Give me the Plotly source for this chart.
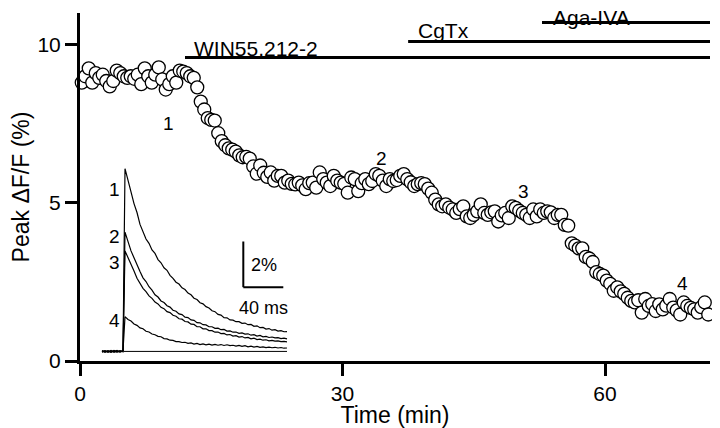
import plotly.graph_objects as go

# ---------------- main time course ----------------
TIME_START_MIN = 0.2
SAMPLE_INTERVAL_MIN = 0.4
PEAK_DFF = [
    8.80, 9.00, 9.25, 8.80, 9.10, 8.95, 9.05, 8.85, 8.68, 8.85,
    9.18, 9.10, 9.00, 8.95, 9.00, 8.92, 9.05, 8.75, 9.25, 9.00,
    8.80, 9.05, 9.28, 8.90, 8.58, 8.75, 9.00, 8.80, 9.18, 9.15,
    9.10, 9.00, 8.95, 8.65, 8.20, 7.95, 7.68, 7.62, 7.60, 7.20,
    6.95, 6.82, 6.72, 6.68, 6.62, 6.50, 6.44, 6.45, 6.40, 6.15,
    5.92, 6.18, 5.95, 5.82, 5.96, 5.70, 5.85, 5.85, 5.64, 5.70,
    5.60, 5.58, 5.64, 5.55, 5.43, 5.62, 5.64, 5.48, 5.96, 5.75,
    5.64, 5.53, 5.85, 5.70, 5.64, 5.60, 5.32, 5.80, 5.75, 5.37,
    5.62, 5.75, 5.59, 5.69, 5.91, 5.85, 5.70, 5.53, 5.75, 5.69,
    5.72, 5.85, 5.91, 5.75, 5.65, 5.53, 5.59, 5.62, 5.59, 5.45,
    5.32, 5.10, 4.95, 4.89, 4.95, 4.85, 4.79, 4.68, 4.80, 4.89,
    4.57, 4.52, 4.62, 4.73, 4.95, 4.68, 4.62, 4.70, 4.73, 4.41,
    4.60, 4.68, 4.52, 4.89, 4.84, 4.75, 4.68, 4.62, 4.52, 4.79,
    4.57, 4.79, 4.68, 4.73, 4.70, 4.52, 4.62, 4.62, 4.30, 4.28,
    3.72, 3.65, 3.56, 3.56, 3.29, 3.24, 3.13, 2.81, 2.75, 2.70,
    2.54, 2.44, 2.22, 2.33, 2.20, 2.12, 2.00, 1.90, 1.85, 1.92,
    1.53, 1.96, 1.74, 1.80, 1.58, 1.79, 1.63, 1.75, 1.96, 1.69,
    1.60, 1.47, 1.85, 1.74, 1.68, 1.63, 1.53, 1.70, 1.85, 1.47,
]
TIME_MIN = [round(TIME_START_MIN + i * SAMPLE_INTERVAL_MIN, 2) for i in range(len(PEAK_DFF))]

X_TICKS = [0, 30, 60]
Y_TICKS = [0, 5, 10]

DRUG_NAMES = ["WIN55,212-2", "CgTx", "Aga-IVA"]
DRUG_START_MIN = [12.0, 37.5, 52.8]
DRUG_END_MIN = 72.0

SAMPLE_LABELS = ["1", "2", "3", "4"]
SAMPLE_LABEL_TIME = [10.1, 34.5, 50.7, 68.8]
SAMPLE_LABEL_VALUE = [7.5, 6.39, 5.37, 2.44]

# ---------------- inset fluorescence transients ----------------
TRACE_MS = [2, 5, 8, 11, 14, 17, 20, 23] + list(range(25, 188, 3))
TRACE_1 = [0.03, -0.04, 0.02, -0.03, 0.04, -0.02, 0.03, 0.00,
           8.00, 7.42, 6.98, 6.47, 6.08, 5.56, 5.27, 4.92, 4.73, 4.44,
           4.29, 4.02, 3.88, 3.66, 3.55, 3.33, 3.20, 3.03, 2.95, 2.78,
           2.71, 2.55, 2.48, 2.33, 2.27, 2.13, 2.08, 1.96, 1.90, 1.78,
           1.74, 1.62, 1.59, 1.48, 1.47, 1.38, 1.37, 1.30, 1.30, 1.23,
           1.24, 1.17, 1.18, 1.10, 1.12, 1.04, 1.05, 0.98, 1.00, 0.93,
           0.95, 0.89, 0.91, 0.86, 0.87]
TRACE_2 = [-0.02, 0.03, -0.04, 0.02, -0.01, 0.04, -0.03, 0.02,
           5.22, 4.78, 4.40, 4.10, 3.76, 3.50, 3.22, 3.06, 2.83, 2.68,
           2.48, 2.38, 2.21, 2.14, 2.00, 1.94, 1.80, 1.76, 1.64, 1.61,
           1.50, 1.48, 1.38, 1.36, 1.26, 1.25, 1.17, 1.16, 1.08, 1.08,
           1.01, 1.02, 0.95, 0.96, 0.89, 0.90, 0.84, 0.85, 0.79, 0.81,
           0.76, 0.77, 0.71, 0.73, 0.67, 0.70, 0.64, 0.66, 0.61, 0.63,
           0.59, 0.60, 0.56, 0.58, 0.55]
TRACE_3 = [0.04, -0.02, 0.03, -0.04, 0.02, -0.03, 0.01, -0.02,
           4.40, 4.12, 3.78, 3.52, 3.20, 3.00, 2.76, 2.62, 2.43, 2.32,
           2.16, 2.08, 1.93, 1.87, 1.74, 1.70, 1.58, 1.54, 1.43, 1.41,
           1.31, 1.29, 1.19, 1.18, 1.08, 1.08, 0.99, 0.99, 0.91, 0.91,
           0.84, 0.85, 0.78, 0.79, 0.72, 0.74, 0.67, 0.69, 0.63, 0.65,
           0.59, 0.61, 0.55, 0.58, 0.52, 0.54, 0.49, 0.51, 0.46, 0.48,
           0.45, 0.46, 0.43, 0.44, 0.42]
TRACE_4 = [-0.03, 0.02, -0.02, 0.04, -0.04, 0.01, -0.02, 0.03,
           1.52, 1.40, 1.33, 1.20, 1.14, 1.03, 0.99, 0.88, 0.85, 0.76,
           0.73, 0.66, 0.64, 0.56, 0.55, 0.49, 0.48, 0.43, 0.43, 0.39,
           0.40, 0.35, 0.37, 0.32, 0.35, 0.30, 0.33, 0.29, 0.32, 0.28,
           0.31, 0.27, 0.30, 0.26, 0.29, 0.25, 0.27, 0.23, 0.26, 0.22,
           0.25, 0.20, 0.23, 0.19, 0.22, 0.18, 0.20, 0.17, 0.19, 0.16,
           0.18, 0.15, 0.17, 0.14, 0.15]
TRACES = [TRACE_1, TRACE_2, TRACE_3, TRACE_4]
TRACE_LABELS = ["1", "2", "3", "4"]
TRACE_LABEL_VALUE = [7.09, 5.04, 3.88, 1.37]
STIM_MS = 24
TRACE_END_MS = 187

SCALE_BAR_MS = 40
SCALE_BAR_PCT = 2

FONT = "Liberation Sans, Arial, Helvetica, sans-serif"

fig = go.Figure()

fig.add_trace(go.Scatter(
    x=TIME_MIN, y=PEAK_DFF, mode="markers",
    marker=dict(size=13, color="white", line=dict(color="black", width=1.3)),
    xaxis="x", yaxis="y", cliponaxis=False, showlegend=False, hoverinfo="skip"))

for tr in TRACES:
    fig.add_trace(go.Scatter(
        x=TRACE_MS, y=tr, mode="lines",
        line=dict(color="black", width=1.2),
        xaxis="x2", yaxis="y2", showlegend=False, hoverinfo="skip"))

shapes = []
drug_levels = [9.59, 10.1, 10.7]
for start, lvl in zip(DRUG_START_MIN, drug_levels):
    shapes.append(dict(type="line", xref="x", yref="y", x0=start, x1=DRUG_END_MIN,
                       y0=lvl, y1=lvl, line=dict(color="black", width=3)))
# inset zero reference
shapes.append(dict(type="line", xref="x2", yref="y2", x0=STIM_MS, x1=TRACE_END_MS,
                   y0=0, y1=0, line=dict(color="black", width=1)))
# scale bar
sb_x, sb_y = 143.3, 2.81
shapes.append(dict(type="line", xref="x2", yref="y2", x0=sb_x, x1=sb_x,
                   y0=sb_y, y1=sb_y + SCALE_BAR_PCT, line=dict(color="black", width=2)))
shapes.append(dict(type="line", xref="x2", yref="y2", x0=sb_x, x1=sb_x + SCALE_BAR_MS,
                   y0=sb_y, y1=sb_y, line=dict(color="black", width=2)))

annotations = []
drug_label_pos = [(12.9, 9.87), (38.5, 10.45), (53.9, 10.86)]
for name, (tx, ty) in zip(DRUG_NAMES, drug_label_pos):
    annotations.append(dict(x=tx, y=ty, xref="x", yref="y", text=name, showarrow=False,
                            xanchor="left", yanchor="middle", borderpad=0,
                            font=dict(size=21, color="black", family=FONT)))
for lab, tx, ty in zip(SAMPLE_LABELS, SAMPLE_LABEL_TIME, SAMPLE_LABEL_VALUE):
    annotations.append(dict(x=tx, y=ty, xref="x", yref="y", text=lab, showarrow=False,
                            xanchor="center", yanchor="middle",
                            font=dict(size=19, color="black", family=FONT)))
for lab, ty in zip(TRACE_LABELS, TRACE_LABEL_VALUE):
    annotations.append(dict(x=14, y=ty, xref="x2", yref="y2", text=lab, showarrow=False,
                            xanchor="center", yanchor="middle",
                            font=dict(size=19, color="black", family=FONT)))
annotations.append(dict(x=sb_x + 6, y=3.77, xref="x2", yref="y2", text=f"{SCALE_BAR_PCT}%",
                        showarrow=False, xanchor="left", yanchor="middle",
                        font=dict(size=18, color="black", family=FONT)))
annotations.append(dict(x=sb_x + SCALE_BAR_MS / 2, y=1.92, xref="x2", yref="y2",
                        text=f"{SCALE_BAR_MS} ms", showarrow=False, xanchor="center",
                        yanchor="middle", font=dict(size=18, color="black", family=FONT)))

axis_common = dict(showline=True, linewidth=3, linecolor="black", ticks="outside",
                   ticklen=12, tickwidth=3, tickcolor="black", showgrid=False,
                   zeroline=False, tickfont=dict(size=21, color="black", family=FONT))

# The page body adds an 8 px offset, so the figure is 8 px smaller and the
# left/top margins are 8 px smaller to land the plot area where the reference has it.
fig.update_layout(
    width=712, height=420,
    margin=dict(l=72, r=10, t=5, b=64),
    paper_bgcolor="white", plot_bgcolor="rgba(0,0,0,0)",
    font=dict(family=FONT, color="black"),
    xaxis=dict(range=[0, 72], tickvals=X_TICKS, domain=[0, 1],
               title=dict(text="Time (min)", font=dict(size=23, color="black", family=FONT),
                          standoff=2),
               **axis_common),
    yaxis=dict(range=[0, 11], tickvals=Y_TICKS, domain=[0, 1],
               title=dict(text="Peak \u0394F/F (%)", font=dict(size=23, color="black", family=FONT),
                          standoff=8),
               **axis_common),
    xaxis2=dict(domain=[0.03175, 0.34921], range=[0, 200], visible=False, anchor="y2"),
    yaxis2=dict(domain=[0, 0.6], range=[-0.42, 8.72], visible=False, anchor="x2"),
    shapes=shapes, annotations=annotations,
    showlegend=False,
)

fig.write_html("out.html")
